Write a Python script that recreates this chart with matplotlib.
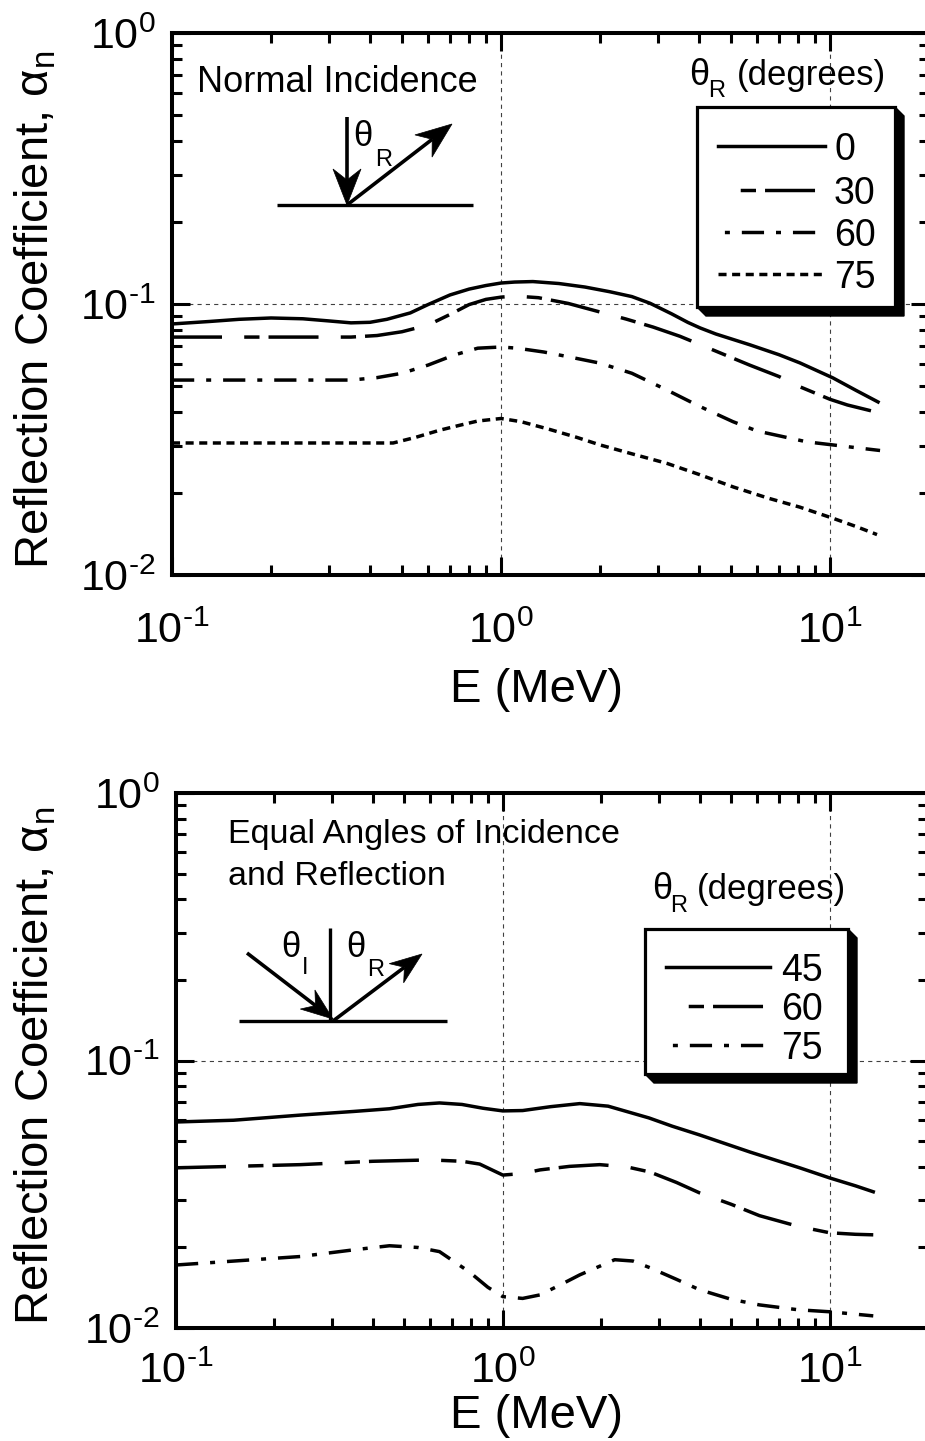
import math
import matplotlib
matplotlib.use('Agg')
import matplotlib.pyplot as plt
from matplotlib.patches import Polygon
from matplotlib.lines import Line2D
from matplotlib.ticker import LogLocator, FuncFormatter, NullFormatter

plt.rcParams['font.family'] = ['Liberation Sans', 'DejaVu Sans']
plt.rcParams['mathtext.fontset'] = 'custom'
plt.rcParams['mathtext.rm'] = 'Liberation Sans'
plt.rcParams['mathtext.it'] = 'Liberation Sans:italic'
plt.rcParams['mathtext.bf'] = 'Liberation Sans:bold'
plt.rcParams['lines.scale_dashes'] = False

# ---------------- data ----------------
top_labels = ['0', '30', '60', '75']
top_E_0 = [0.1, 0.13, 0.16, 0.2, 0.25, 0.3, 0.35, 0.4, 0.45, 0.53, 0.6, 0.7, 0.8, 0.9, 1.0, 1.1, 1.25,
           1.5, 1.8, 2.14, 2.5, 2.84, 3.3, 3.7, 4.03, 4.5, 5.71, 7.0, 8.11, 10.2, 12.0, 14.0]
top_a_0 = [0.0844, 0.0862, 0.0878, 0.0888, 0.0882, 0.0866, 0.0852, 0.0856, 0.0878, 0.0927, 0.0995, 0.108,
           0.1135, 0.117, 0.1195, 0.1205, 0.121, 0.119, 0.1155, 0.111, 0.1065, 0.1006, 0.092, 0.0855, 0.0816,
           0.0775, 0.0707, 0.065, 0.0606, 0.0534, 0.048, 0.0435]
top_E_30 = [0.1, 0.2, 0.35, 0.42, 0.5, 0.6, 0.7, 0.8, 0.9, 1.0, 1.1, 1.3, 1.6, 1.9, 2.4, 2.9, 3.5, 4.5,
            5.7, 7.0, 8.1, 10.0, 11.3, 14.2]
top_a_30 = [0.0755, 0.0755, 0.0755, 0.0765, 0.079, 0.0836, 0.0915, 0.0995, 0.104, 0.106, 0.107, 0.1055,
            0.1005, 0.095, 0.088, 0.0822, 0.076, 0.067, 0.0595, 0.054, 0.0495, 0.0445, 0.0424, 0.0396]
top_E_60 = [0.1, 0.2, 0.35, 0.42, 0.5, 0.6, 0.72, 0.85, 1.0, 1.12, 1.35, 1.6, 2.0, 2.5, 3.2, 4.0, 5.07,
            6.0, 7.2, 8.5, 10.2, 12.0, 14.2]
top_a_60 = [0.0524, 0.0524, 0.0524, 0.0535, 0.0555, 0.0595, 0.0648, 0.0687, 0.0694, 0.0687, 0.0665, 0.0639,
            0.0605, 0.0555, 0.0481, 0.042, 0.0368, 0.034, 0.0324, 0.031, 0.0302, 0.0295, 0.0288]
top_E_75 = [0.1, 0.2, 0.47, 0.55, 0.65, 0.75, 0.85, 1.0, 1.15, 1.4, 1.7, 2.0, 2.5, 3.2, 4.0, 5.1, 6.5,
            8.1, 10.2, 12.0, 13.9]
top_a_75 = [0.0307, 0.0307, 0.0307, 0.0322, 0.0342, 0.0357, 0.037, 0.0378, 0.0368, 0.0345, 0.0322, 0.0302,
            0.028, 0.0258, 0.0235, 0.0211, 0.0192, 0.0178, 0.0162, 0.0151, 0.0141]

bot_labels = ['45', '60', '75']
bot_E_45 = [0.1, 0.15, 0.24, 0.35, 0.45, 0.55, 0.64, 0.75, 0.87, 1.0, 1.15, 1.4, 1.72, 2.1, 2.8, 3.3,
            4.0, 5.7, 8.1, 10.0, 12.0, 13.6]
bot_a_45 = [0.0589, 0.0598, 0.0625, 0.0645, 0.066, 0.0685, 0.0694, 0.0685, 0.0663, 0.0648, 0.065, 0.0672,
            0.069, 0.0675, 0.061, 0.0568, 0.0527, 0.0455, 0.0397, 0.0364, 0.034, 0.0323]
bot_E_60 = [0.1, 0.24, 0.4, 0.6, 0.75, 0.85, 1.0, 1.15, 1.3, 1.6, 1.98, 2.4, 2.82, 3.4, 4.0, 5.0, 6.1,
            8.0, 10.0, 12.0, 13.6]
bot_a_60 = [0.0397, 0.0408, 0.042, 0.0425, 0.042, 0.041, 0.0373, 0.0378, 0.039, 0.0402, 0.0408, 0.04,
            0.0383, 0.035, 0.032, 0.029, 0.0263, 0.024, 0.0227, 0.0224, 0.0223]
bot_E_75 = [0.1, 0.24, 0.35, 0.45, 0.55, 0.64, 0.79, 0.9, 1.0, 1.15, 1.3, 1.5, 1.72, 2.2, 2.5, 2.82, 3.4,
            4.0, 5.0, 6.1, 8.0, 10.0, 13.6]
bot_a_75 = [0.0172, 0.0185, 0.0196, 0.0203, 0.020, 0.0193, 0.0162, 0.0142, 0.0131, 0.0129, 0.0133, 0.0145,
            0.0158, 0.018, 0.0178, 0.0168, 0.0152, 0.0139, 0.0128, 0.0122, 0.0117, 0.0115, 0.0111]

xlim = (0.1, 20)
ylim = (0.01, 1)

# ---------------- styles ----------------
LW = 2.5
sty_solid = '-'
sty_longdash = (0, (36, 16, 11, 6.5))
sty_dashdot = (0, (16, 8.6, 3.6, 8.6))
sty_dot = (0, (5.8, 4.0))
leg_longdash = (36, (36, 16, 11, 6.5))
leg_dashdot = (20, (16, 8.6, 3.6, 8.6))

W, H = 925, 1441
fig = plt.figure(figsize=(W / 100, H / 100), dpi=100)


def fx(px):
    return px / W


def fy(py):
    return 1 - py / H


def sup_fmt(v, pos):
    e = int(round(math.log10(v)))
    s = str(e).replace('-', '\u2010')
    return r'$\mathregular{10^{%s}}$' % s


def make_axes(left, top, right, bottom):
    ax = fig.add_axes([fx(left), fy(bottom), fx(right) - fx(left), fy(top) - fy(bottom)])
    ax.set_xscale('log')
    ax.set_yscale('log')
    ax.set_xlim(*xlim)
    ax.set_ylim(*ylim)
    for s in ax.spines.values():
        s.set_linewidth(2.9)
    ax.xaxis.set_major_locator(LogLocator(base=10, numticks=10))
    ax.yaxis.set_major_locator(LogLocator(base=10, numticks=10))
    ax.xaxis.set_minor_locator(LogLocator(base=10, subs=range(2, 10), numticks=20))
    ax.yaxis.set_minor_locator(LogLocator(base=10, subs=range(2, 10), numticks=20))
    ax.xaxis.set_major_formatter(FuncFormatter(sup_fmt))
    ax.yaxis.set_major_formatter(FuncFormatter(sup_fmt))
    ax.xaxis.set_minor_formatter(NullFormatter())
    ax.yaxis.set_minor_formatter(NullFormatter())
    ax.tick_params(which='both', direction='in', top=True, right=True, labelsize=31)
    ax.tick_params(which='major', length=13, width=2.2)
    ax.tick_params(which='minor', length=7, width=2.2)
    ax.grid(True, which='major', ls=(0, (3, 3)), lw=0.8, color='0.25')
    ax.set_xlabel('E (MeV)', fontsize=34, va='center')
    ax.set_ylabel(r'Reflection Coefficient, α$_{\mathregular{n}}$', fontsize=34, va='center')
    return ax


def arrow(p0, p1, hl=36, hw=14, notch=11, lw=2.6):
    dx, dy = p1[0] - p0[0], p1[1] - p0[1]
    L = math.hypot(dx, dy)
    ux, uy = dx / L, dy / L
    nx, ny = -uy, ux
    bx, by = p1[0] - ux * hl, p1[1] - uy * hl
    kx, ky = p1[0] - ux * (hl - notch), p1[1] - uy * (hl - notch)
    fig.add_artist(Line2D([fx(p0[0]), fx(kx)], [fy(p0[1]), fy(ky)], transform=fig.transFigure,
                          color='k', lw=lw, solid_capstyle='butt'))
    pts = [(p1[0], p1[1]), (bx + nx * hw, by + ny * hw), (kx, ky), (bx - nx * hw, by - ny * hw)]
    fig.add_artist(Polygon([(fx(a), fy(b)) for a, b in pts], closed=True, transform=fig.transFigure,
                           facecolor='k', edgecolor='k', lw=0.5))


def seg(p0, p1, lw=2.4):
    fig.add_artist(Line2D([fx(p0[0]), fx(p1[0])], [fy(p0[1]), fy(p1[1])],
                          transform=fig.transFigure, color='k', lw=lw, solid_capstyle='butt'))


def legend_box(x0, y0, x1, y1, off, rows, labels, styles, hx0, hx1, tx, fs):
    sh = Polygon([(fx(x1), fy(y0)), (fx(x1 + off), fy(y0 + off)), (fx(x1 + off), fy(y1 + off)),
                  (fx(x0 + off), fy(y1 + off)), (fx(x0), fy(y1))], closed=True,
                 transform=fig.transFigure, facecolor='k', edgecolor='k', lw=1, zorder=5)
    fig.add_artist(sh)
    box = Polygon([(fx(x0), fy(y0)), (fx(x1), fy(y0)), (fx(x1), fy(y1)), (fx(x0), fy(y1))], closed=True,
                  transform=fig.transFigure, facecolor='white', edgecolor='k', lw=2.3, zorder=6)
    fig.add_artist(box)
    for r, lab, st in zip(rows, labels, styles):
        fig.add_artist(Line2D([fx(hx0), fx(hx1)], [fy(r), fy(r)], transform=fig.transFigure,
                              color='k', lw=LW, ls=st, zorder=7))
        fig.text(fx(tx), fy(r), lab, fontsize=fs, ha='left', va='center_baseline', zorder=7)


# ================= TOP =================
ax1 = make_axes(172, 33, 929, 575)
ax1.tick_params(axis='x', which='major', pad=26)
ax1.tick_params(axis='y', which='major', pad=12)
ax1.xaxis.set_label_coords((537 - 172) / 757, (575 - 690) / 542)
ax1.yaxis.set_label_coords((36 - 172) / 757, 0.49)

ax1.plot(top_E_0, top_a_0, color='k', lw=LW, ls=sty_solid, zorder=3)
ax1.plot(top_E_30, top_a_30, color='k', lw=LW, ls=sty_longdash, zorder=3)
ax1.plot(top_E_60, top_a_60, color='k', lw=LW, ls=sty_dashdot, zorder=3)
ax1.plot(top_E_75, top_a_75, color='k', lw=LW, ls=sty_dot, zorder=3)

fig.text(fx(197), fy(92), 'Normal Incidence', fontsize=26, ha='left', va='baseline')
seg((277, 205), (473, 205))
arrow((347, 117), (347, 205))
arrow((347, 205), (452, 124))
fig.text(fx(353), fy(146), 'θ', fontsize=25, ha='left', va='baseline')
fig.text(fx(375), fy(166), 'R', fontsize=17, ha='left', va='baseline')

fig.text(fx(689), fy(85), 'θ', fontsize=26, ha='left', va='baseline')
fig.text(fx(708), fy(97), 'R', fontsize=17, ha='left', va='baseline')
fig.text(fx(737), fy(85), '(degrees)', fontsize=25, ha='left', va='baseline')
legend_box(697, 107, 895, 307, 9, [146, 190, 232, 274], top_labels,
           [sty_solid, leg_longdash, leg_dashdot, sty_dot], 718, 825, 834, 27)

# ================= BOTTOM =================
ax2 = make_axes(176, 793, 928, 1328)
ax2.tick_params(axis='x', which='major', pad=17)
ax2.tick_params(axis='y', which='major', pad=12)
ax2.xaxis.set_label_coords((537 - 176) / 752, (1328 - 1416) / 535)
ax2.yaxis.set_label_coords((36 - 176) / 752, 0.49)

ax2.plot(bot_E_45, bot_a_45, color='k', lw=LW, ls=sty_solid, zorder=3)
ax2.plot(bot_E_60, bot_a_60, color='k', lw=LW, ls=sty_longdash, zorder=3)
ax2.plot(bot_E_75, bot_a_75, color='k', lw=LW, ls=sty_dashdot, zorder=3)

fig.text(fx(228), fy(843), 'Equal Angles of Incidence', fontsize=24.5, ha='left', va='baseline')
fig.text(fx(228), fy(885), 'and Reflection', fontsize=24.5, ha='left', va='baseline')
seg((239, 1021), (447, 1021))
seg((330, 928), (330, 1021))
arrow((247, 953), (333, 1019), hl=32, hw=12, notch=10)
arrow((333, 1021), (422, 954), hl=32, hw=12, notch=10)
fig.text(fx(281), fy(957), 'θ', fontsize=25, ha='left', va='baseline')
fig.text(fx(302), fy(974), 'I', fontsize=17, ha='left', va='baseline')
fig.text(fx(346), fy(957), 'θ', fontsize=25, ha='left', va='baseline')
fig.text(fx(367), fy(976), 'R', fontsize=17, ha='left', va='baseline')

fig.text(fx(652), fy(899), 'θ', fontsize=26, ha='left', va='baseline')
fig.text(fx(670), fy(912), 'R', fontsize=17, ha='left', va='baseline')
fig.text(fx(697), fy(899), '(degrees)', fontsize=25, ha='left', va='baseline')
legend_box(645, 929, 848, 1074, 9, [967, 1006, 1045], bot_labels,
           [sty_solid, leg_longdash, leg_dashdot], 666, 770, 781, 27)

fig.savefig('out.png', dpi=100)
